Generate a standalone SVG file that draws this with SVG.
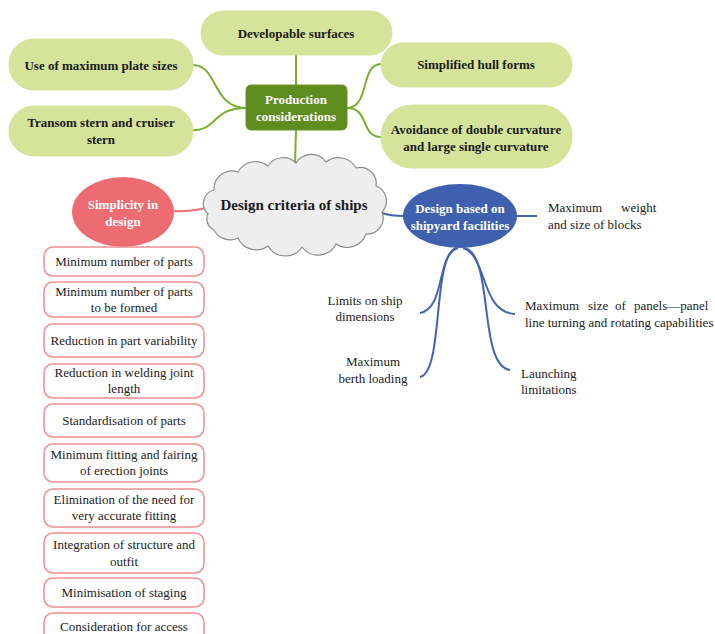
<svg xmlns="http://www.w3.org/2000/svg" width="715" height="634" viewBox="0 0 715 634" font-family="Liberation Serif, Times New Roman, DejaVu Serif, serif">
<style>
.lg{fill:#d5e39b;stroke:#d5e39b}
text{font-family:'Liberation Serif','Times New Roman','DejaVu Serif',serif;font-size:13px;fill:#222;text-anchor:middle}
.b{font-weight:bold;fill:#1a1a1a}
.w{fill:#fff;font-weight:bold}
.l{text-anchor:start}
.rb{fill:#fff;stroke:#ef8f93;stroke-width:1.5}
.gc{fill:none;stroke:#7ab02e;stroke-width:2}
.bc{fill:none;stroke:#4464b2;stroke-width:2}
.rc{fill:none;stroke:#ee6f74;stroke-width:2}
</style>
<rect width="715" height="634" fill="#fff"/>
<g id="connectors">
<path class="gc" d="M296,55 L296,85"/>
<path class="gc" d="M296,130 L295,166"/>
<path class="gc" d="M193,65 C218,65 212,108 246,108"/>
<path class="gc" d="M193,130 C218,130 212,108 246,108"/>
<path class="gc" d="M347,108 C370,108 360,64 381,64"/>
<path class="gc" d="M347,108 C370,108 360,137 381,137"/>
<path class="rc" d="M174,211 C188,212 196,210 206,208"/>
<path class="bc" d="M382,213 C390,216 396,216 404,216"/>
<path class="bc" d="M517,216 L537,216"/>
<path class="bc" d="M458,248 C436,254 446,308 420,313"/>
<path class="bc" d="M456,248 C432,256 444,372 420,377"/>
<path class="bc" d="M463,248 C488,256 480,312 515,314"/>
<path class="bc" d="M465,248 C494,256 478,366 510,370"/>
</g>
<g id="developable"><rect class="lg" x="201" y="11" width="191" height="44" rx="22"/><text class="b" x="296" y="38">Developable surfaces</text></g>
<g id="maxplate"><rect class="lg" x="9" y="39" width="184" height="51" rx="25"/><text class="b" x="101" y="70">Use of maximum plate sizes</text></g>
<g id="transom"><rect class="lg" x="9" y="106" width="184" height="50" rx="25"/><text class="b" x="101" y="127">Transom stern and cruiser</text><text class="b" x="101" y="144">stern</text></g>
<g id="simplified"><rect class="lg" x="381" y="43" width="191" height="44" rx="22"/><text class="b" x="476" y="69">Simplified hull forms</text></g>
<g id="avoidance"><rect class="lg" x="381" y="105" width="191" height="63" rx="31"/><text class="b" x="476" y="134">Avoidance of double curvature</text><text class="b" x="476" y="151">and large single curvature</text></g>
<g id="production"><rect x="246" y="85" width="101" height="45" rx="5" fill="#5e8c1f" stroke="#6a9a2a"/><text class="w" x="296" y="104">Production</text><text class="w" x="296" y="121">considerations</text></g>
<g id="cloud"><path d="M208,214 A14 14 0 0 1 214,190 A18 18 0 0 1 238,172 A20 20 0 0 1 268,166 A18 18 0 0 1 296,163 A18 18 0 0 1 326,162 A20 20 0 0 1 356,168 A16 16 0 0 1 376,186 A16 16 0 0 1 382,212 A16 16 0 0 1 366,234 A20 20 0 0 1 336,244 A20 20 0 0 1 302,247 A20 20 0 0 1 268,246 A20 20 0 0 1 238,238 A18 18 0 0 1 214,230 A12 12 0 0 1 208,214 Z" fill="#eeeeee" stroke="#8c8c8c" stroke-width="1.2"/><text class="b" x="294" y="210" style="font-size:15px">Design criteria of ships</text></g>
<g id="simplicity"><ellipse cx="123" cy="212" rx="51" ry="35" fill="#ec6c72"/><text class="w" x="123" y="209">Simplicity in</text><text class="w" x="123" y="226">design</text></g>
<g id="shipyard"><ellipse cx="460" cy="216" rx="57" ry="32" fill="#3f60ae"/><text class="w" x="460" y="213">Design based on</text><text class="w" x="460" y="230">shipyard facilities</text></g>
<g id="maxweight"><text class="l" x="548" y="212">Maximum</text><text class="l" x="621" y="212">weight</text><text class="l" x="548" y="229">and size of blocks</text></g>
<g id="limits"><text x="365" y="305">Limits on ship</text><text x="365" y="321">dimensions</text></g>
<g id="berth"><text x="373" y="366">Maximum</text><text x="373" y="383">berth loading</text></g>
<g id="panels"><text class="l" x="525" y="310">Maximum</text><text class="l" x="588" y="310">size</text><text class="l" x="615" y="310">of</text><text class="l" x="634" y="310">panels—panel</text><text class="l" x="525" y="327">line turning and rotating capabilities</text></g>
<g id="launching"><text class="l" x="521" y="378">Launching</text><text class="l" x="521" y="394">limitations</text></g>
<g id="r1"><rect class="rb" x="44" y="247" width="160" height="29" rx="9"/><text x="124" y="266">Minimum number of parts</text></g>
<g id="r2"><rect class="rb" x="44" y="282" width="160" height="35" rx="9"/><text x="124" y="296">Minimum number of parts</text><text x="124" y="312">to be formed</text></g>
<g id="r3"><rect class="rb" x="44" y="324" width="160" height="33" rx="9"/><text x="124" y="345">Reduction in part variability</text></g>
<g id="r4"><rect class="rb" x="44" y="364" width="160" height="34" rx="9"/><text x="124" y="377">Reduction in welding joint</text><text x="124" y="393">length</text></g>
<g id="r5"><rect class="rb" x="44" y="404" width="160" height="33" rx="9"/><text x="124" y="425">Standardisation of parts</text></g>
<g id="r6"><rect class="rb" x="44" y="444" width="160" height="38" rx="9"/><text x="124" y="459">Minimum fitting and fairing</text><text x="124" y="475">of erection joints</text></g>
<g id="r7"><rect class="rb" x="44" y="489" width="160" height="38" rx="9"/><text x="124" y="504">Elimination of the need for</text><text x="124" y="520">very accurate fitting</text></g>
<g id="r8"><rect class="rb" x="44" y="533" width="160" height="40" rx="9"/><text x="124" y="549">Integration of structure and</text><text x="124" y="566">outfit</text></g>
<g id="r9"><rect class="rb" x="44" y="578" width="160" height="29" rx="9"/><text x="124" y="597">Minimisation of staging</text></g>
<g id="r10"><rect class="rb" x="44" y="613" width="160" height="30" rx="9"/><text x="124" y="631">Consideration for access</text></g>
</svg>
